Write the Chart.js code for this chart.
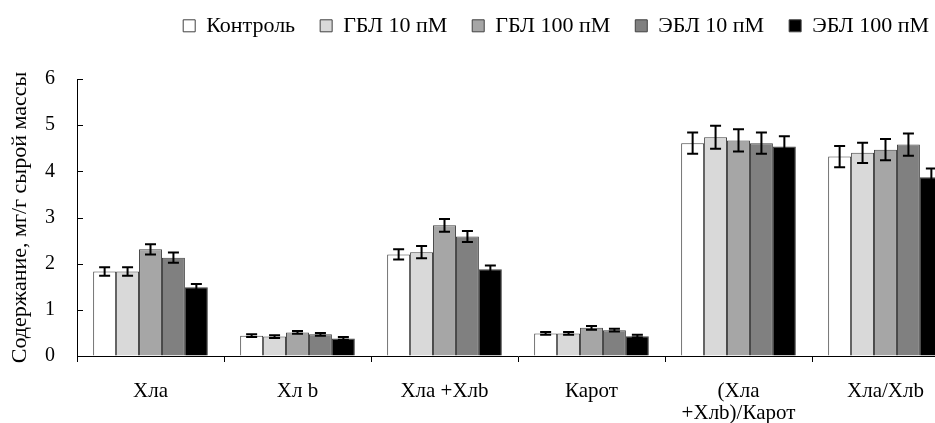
<!DOCTYPE html>
<html>
<head>
<meta charset="utf-8">
<script src="https://cdn.jsdelivr.net/npm/chart.js@4"></script>
<style>
  html, body { margin: 0; padding: 0; background: #fff; overflow: hidden; }
  #wrap { width: 965px; height: 423px; }
</style>
</head>
<body>
<div id="wrap"><canvas id="pigmentChart"></canvas></div>
<script>
const categories = ['Хла', 'Хл b', 'Хла +Хлb', 'Карот', ['(Хла', '+Хлb)/Карот'], 'Хла/Хлb'];
const seriesNames = ['Контроль', 'ГБЛ 10 пМ', 'ГБЛ 100 пМ', 'ЭБЛ 10 пМ', 'ЭБЛ 100 пМ'];

const control  = [1.83, 0.44, 2.20, 0.49, 4.61, 4.32];
const gbl10    = [1.83, 0.42, 2.25, 0.49, 4.74, 4.40];
const gbl100   = [2.31, 0.51, 2.83, 0.61, 4.67, 4.47];
const ebl10    = [2.13, 0.47, 2.59, 0.56, 4.61, 4.58];
const ebl100   = [1.49, 0.38, 1.88, 0.43, 4.54, 3.87];

const controlErr = [0.09, 0.03, 0.11, 0.03, 0.23, 0.23];
const gbl10Err   = [0.09, 0.03, 0.13, 0.03, 0.25, 0.22];
const gbl100Err  = [0.11, 0.03, 0.14, 0.04, 0.24, 0.23];
const ebl10Err   = [0.11, 0.03, 0.12, 0.03, 0.23, 0.24];
const ebl100Err  = [0.07, 0.03, 0.08, 0.03, 0.22, 0.19];

const yTicks = ['0', '1', '2', '3', '4', '5', '6'];

const values = [control, gbl10, gbl100, ebl10, ebl100];
const errors = [controlErr, gbl10Err, gbl100Err, ebl10Err, ebl100Err];
const fills = ['#ffffff', '#d9d9d9', '#a6a6a6', '#808080', '#000000'];

const serif = "'Liberation Serif', 'Times New Roman', serif";

// error bars drawn from the bar positions
const errorBars = {
  id: 'errorBars',
  afterDatasetsDraw(chart) {
    const ctx = chart.ctx;
    const y = chart.scales.y;
    ctx.save();
    ctx.strokeStyle = '#000';
    ctx.lineWidth = 2;
    chart.data.datasets.forEach((ds, i) => {
      const meta = chart.getDatasetMeta(i);
      meta.data.forEach((bar, j) => {
        const v = ds.data[j], e = errors[i][j];
        const top = y.getPixelForValue(v + e);
        const bot = y.getPixelForValue(v - e);
        ctx.beginPath();
        ctx.moveTo(bar.x, top); ctx.lineTo(bar.x, bot);
        ctx.moveTo(bar.x - 5.5, top); ctx.lineTo(bar.x + 5.5, top);
        ctx.moveTo(bar.x - 5.5, bot); ctx.lineTo(bar.x + 5.5, bot);
        ctx.stroke();
      });
    });
    ctx.restore();
  }
};

// y tick marks point into the plot
const innerTicks = {
  id: 'innerTicks',
  afterDraw(chart) {
    const ctx = chart.ctx;
    const y = chart.scales.y;
    ctx.save();
    ctx.strokeStyle = '#000';
    ctx.lineWidth = 1;
    y.ticks.forEach(t => {
      const py = Math.round(y.getPixelForValue(t.value)) + 0.5;
      ctx.beginPath();
      ctx.moveTo(y.right, py);
      ctx.lineTo(y.right + 6, py);
      ctx.stroke();
    });
    ctx.restore();
  }
};

// legend sits higher and ends at the visible right edge, not the wider canvas
const legendShift = {
  id: 'legendShift',
  afterLayout(chart) {
    const lg = chart.legend;
    const pad = lg.options.labels.padding;
    lg.right = 929 + pad;
    lg.width = lg.right - lg.left;
    const dy = lg.top + pad + 13.2 - 28;
    lg.top -= dy;
    lg.bottom -= dy;
  }
};

new Chart(document.getElementById('pigmentChart').getContext('2d'), {
  type: 'bar',
  data: {
    labels: categories,
    datasets: seriesNames.map((name, i) => ({
      label: name,
      data: values[i],
      backgroundColor: fills[i],
      borderColor: '#404040',
      borderWidth: 1,
      barPercentage: 1.0,
      categoryPercentage: 0.78
    }))
  },
  options: {
    responsive: true,
    maintainAspectRatio: false,
    animation: false,
    layout: { padding: { left: 0, right: 6, top: 22, bottom: 0 } },
    plugins: {
      legend: {
        position: 'top',
        align: 'end',
        labels: {
          color: '#000',
          font: { family: serif, size: 22 },
          boxWidth: 12,
          boxHeight: 12,
          padding: 25
        }
      },
      tooltip: { enabled: false }
    },
    scales: {
      x: {
        offset: true,
        afterFit(scale) { scale.height = 67; },
        grid: { offset: true, drawOnChartArea: false, drawTicks: true, tickLength: 6, color: '#000' },
        border: { display: true, color: '#000', width: 1 },
        ticks: { color: '#000', font: { family: serif, size: 21, lineHeight: 1.05 }, padding: 18, maxRotation: 0, autoSkip: false }
      },
      y: {
        min: 0,
        max: 6,
        afterFit(scale) { scale.width = 77; },
        grid: { drawOnChartArea: false, drawTicks: false },
        border: { display: true, color: '#000', width: 1 },
        ticks: {
          color: '#000',
          font: { family: serif, size: 20 },
          padding: 22,
          stepSize: 1,
          callback: (v, i) => yTicks[i]
        },
        title: {
          display: true,
          text: 'Содержание, мг/г сырой массы',
          color: '#000',
          font: { family: serif, size: 22 },
          padding: { top: 7, bottom: 0 }
        }
      }
    }
  },
  plugins: [errorBars, innerTicks, legendShift]
});
</script>
</body>
</html>
